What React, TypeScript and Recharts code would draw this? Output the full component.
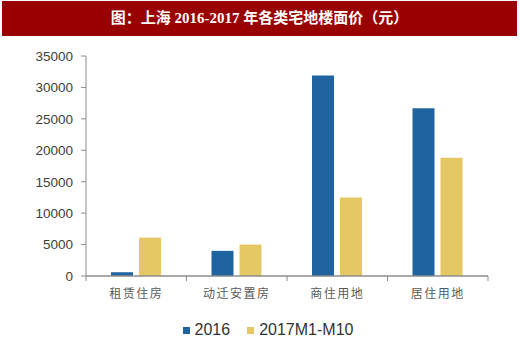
import React from "react";
import { BarChart, Bar, XAxis, YAxis, Legend } from "recharts";

const categories = ["租赁住房", "动迁安置房", "商住用地", "居住用地"];
const values2016 = [600, 4000, 31900, 26700];
const values2017 = [6100, 5000, 12500, 18800];
const yTicks = [0, 5000, 10000, 15000, 20000, 25000, 30000, 35000];
const seriesNames = ["2016", "2017M1-M10"];

const BLUE = "#1F64A0";
const YELLOW = "#E5C764";
const AXIS = "#8C8C8C";

const data = categories.map((name, i) => ({
  name,
  a: values2016[i],
  b: values2017[i],
}));

// category label plus tick marks on the band edges
const CategoryTick = (props: any) => {
  const { x, y, payload, index, visibleTicksCount } = props;
  const half = payload?.offset ?? 0;
  const axisY = y - 13;
  return (
    <g>
      <line x1={x - half} x2={x - half} y1={axisY} y2={axisY + 5} stroke={AXIS} />
      {index === visibleTicksCount - 1 && (
        <line x1={x + half} x2={x + half} y1={axisY} y2={axisY + 5} stroke={AXIS} />
      )}
      <text
        x={x}
        y={y}
        dy="0.71em"
        textAnchor="middle"
        fill="#595959"
        fontSize={12}
        fontFamily="'Noto Sans CJK SC', sans-serif"
        letterSpacing={1.5}
      >
        {payload.value}
      </text>
    </g>
  );
};

const LegendContent = () => (
  <div
    style={{
      display: "flex",
      justifyContent: "center",
      alignItems: "center",
      paddingLeft: 16,
      height: 20,
      fontFamily: "'Liberation Sans', Arial, sans-serif",
      fontSize: 16,
      color: "#333",
    }}
  >
    {seriesNames.map((n, i) => (
      <span key={n} style={{ display: "flex", alignItems: "center", marginRight: i === 0 ? 17 : 0 }}>
        <span
          style={{
            width: 7,
            height: 7,
            background: i === 0 ? BLUE : YELLOW,
            marginRight: 5,
            display: "inline-block",
          }}
        />
        {n}
      </span>
    ))}
  </div>
);

const App: React.FC = () => {
  return (
    <div style={{ position: "absolute", left: 0, top: 0, width: 520, height: 351, background: "#fff" }}>
      <div
        style={{
          position: "absolute",
          left: 2,
          top: 1,
          width: 515,
          height: 35,
          background: "#990000",
          color: "#fff",
          fontFamily: "'Liberation Serif', 'Noto Sans CJK SC', serif",
          fontWeight: 700,
          fontSize: 15,
          lineHeight: "35px",
          textAlign: "center",
          zIndex: 2,
        }}
      >
        图：上海 2016-2017 年各类宅地楼面价（元）
      </div>
      <BarChart
        width={520}
        height={351}
        data={data}
        margin={{ top: 56, right: 32, bottom: 25, left: 0 }}
        barCategoryGap="25%"
        barGap={6}
      >
        <XAxis
          dataKey="name"
          height={30}
          axisLine={{ stroke: AXIS, strokeWidth: 1.5 }}
          tickLine={false}
          tickSize={5}
          tickMargin={8}
          interval={0}
          tick={<CategoryTick />}
        />
        <YAxis
          width={86}
          domain={[0, 35000]}
          ticks={yTicks}
          interval={0}
          axisLine={{ stroke: AXIS }}
          tickLine={{ stroke: AXIS }}
          tickSize={5}
          tickMargin={8}
          tick={{ fill: "#404040", fontSize: 13.5, fontFamily: "'Liberation Sans', Arial, sans-serif" }}
        />
        <Legend verticalAlign="bottom" content={<LegendContent />} wrapperStyle={{ bottom: 11, left: 0, width: 520 }} />
        <Bar dataKey="a" name={seriesNames[0]} fill={BLUE} barSize={22} isAnimationActive={false} />
        <Bar dataKey="b" name={seriesNames[1]} fill={YELLOW} barSize={22} isAnimationActive={false} />
      </BarChart>
    </div>
  );
};

export default App;
